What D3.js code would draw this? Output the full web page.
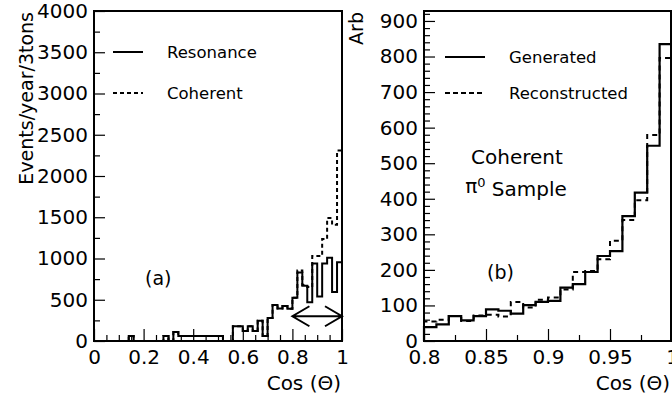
<!DOCTYPE html>
<html><head><meta charset="utf-8">
<script src="https://cdn.jsdelivr.net/npm/d3@7"></script>
<style>
html,body{margin:0;padding:0;background:#fff;}
svg{display:block;}
text{font-family:"DejaVu Sans",sans-serif;fill:#000;}
</style></head><body>
<svg id="chart" width="672" height="397"></svg>
<script>
// ---- Panel (a): events per year per 3 tons vs cos(theta), 50 bins of 0.02
const leftBinWidth = 0.02;
const resonance = [
  0, 0, 0, 0, 0, 0, 0, 60, 0, 0,
  0, 0, 0, 0, 60, 0, 110, 60, 60, 60,
  60, 60, 60, 60, 60, 60, 0, 0, 180, 180,
  120, 180, 120, 245, 60, 280, 435, 395, 425, 390,
  525, 830, 670, 470, 940, 540, 940, 1010, 595, 955
];
const coherent = [
  0, 0, 0, 0, 0, 0, 0, 60, 0, 0,
  0, 0, 0, 0, 60, 0, 110, 60, 60, 60,
  60, 60, 60, 60, 60, 60, 0, 0, 180, 180,
  120, 180, 120, 245, 60, 280, 435, 395, 425, 390,
  525, 855, 680, 655, 1030, 1030, 1235, 1490, 1410, 2310
];
const leftXTicks = [0, 0.2, 0.4, 0.6, 0.8, 1];
const leftXMinor = [0.05, 0.1, 0.15, 0.25, 0.3, 0.35, 0.45, 0.5, 0.55, 0.65, 0.7, 0.75, 0.85, 0.9, 0.95];
const leftYTicks = [0, 500, 1000, 1500, 2000, 2500, 3000, 3500, 4000];
const leftYMinor = [250, 750, 1250, 1750, 2250, 2750, 3250, 3750];
const cutRange = [0.8, 1.0];
const cutLevel = 300;

// ---- Panel (b): coherent pi0 sample, 20 bins of 0.01
const rightBinWidth = 0.01;
const generated = [39, 47, 70, 58, 70, 89, 85, 77, 101, 110, 113, 150, 160, 194, 239, 253, 351, 417, 549, 835];
const reconstructed = [55, 60, 70, 56, 72, 74, 69, 110, 94, 116, 122, 145, 194, 197, 230, 282, 340, 396, 579, 796];
const rightXTicks = [0.8, 0.85, 0.9, 0.95, 1];
const rightXMinor = [0.825, 0.875, 0.925, 0.975];
const rightYTicks = [0, 100, 200, 300, 400, 500, 600, 700, 800, 900];

const svg = d3.select("#chart");

function histPath(vals, binW, lo, x, y) {
  const pts = [[x(lo), y(0)]];
  vals.forEach((v, i) => {
    pts.push([x(lo + i * binW), y(v)]);
    pts.push([x(lo + (i + 1) * binW), y(v)]);
  });
  pts.push([x(lo + vals.length * binW), y(0)]);
  return d3.line()(pts);
}

function styleAxis(g) {
  g.select(".domain").remove();
  g.selectAll(".tick line").attr("stroke", "#000").attr("stroke-width", 1.2);
  g.selectAll(".tick text").style("font-size", "20px").style("font-family", "DejaVu Sans, sans-serif").attr("fill", "#000");
}

function drawPanel(cfg) {
  const { x, y, xMajor, xMinor, yMajor, yMinor, yFmt } = cfg;
  const [x0, x1] = x.range();
  const [yb, yt] = y.range();
  const g = svg.append("g");

  // minor ticks
  g.append("g").attr("transform", `translate(0,${yb})`)
    .call(d3.axisBottom(x).tickValues(xMinor).tickSize(-6).tickFormat(""))
    .call(styleAxis);
  g.append("g").attr("transform", `translate(${x0},0)`)
    .call(d3.axisLeft(y).tickValues(yMinor).tickSize(-6).tickFormat(""))
    .call(styleAxis);
  // major ticks and labels
  g.append("g").attr("transform", `translate(0,${yb})`)
    .call(d3.axisBottom(x).tickValues(xMajor).tickSize(-12).tickPadding(9).tickFormat(d3.format("~g")))
    .call(styleAxis);
  g.append("g").attr("transform", `translate(${x0},0)`)
    .call(d3.axisLeft(y).tickValues(yMajor).tickSize(-11).tickPadding(6).tickFormat(yFmt))
    .call(styleAxis);
  return g;
}

// ---------- Panel (a)
const xL = d3.scaleLinear().domain([0, 1]).range([94, 342]);
const yL = d3.scaleLinear().domain([0, 4000]).range([341, 11]);
const gL = drawPanel({ x: xL, y: yL, xMajor: leftXTicks, xMinor: leftXMinor, yMajor: leftYTicks, yMinor: leftYMinor, yFmt: d3.format("d") });

gL.append("path").attr("d", histPath(resonance, leftBinWidth, 0, xL, yL))
  .attr("fill", "none").attr("stroke", "#000").attr("stroke-width", 2);
gL.append("path").attr("d", histPath(coherent, leftBinWidth, 0, xL, yL))
  .attr("fill", "none").attr("stroke", "#000").attr("stroke-width", 2).attr("stroke-dasharray", "4,3");

// double arrow marking the selected cos(theta) range
const ax0 = xL(cutRange[0]), ax1 = xL(cutRange[1]), ay = yL(cutLevel);
gL.append("path")
  .attr("d", `M${ax0},${ay}L${ax1},${ay}M${ax0 + 17},${ay - 10}L${ax0},${ay}L${ax0 + 17},${ay + 10}M${ax1 - 17},${ay - 10}L${ax1},${ay}L${ax1 - 17},${ay + 10}`)
  .attr("fill", "none").attr("stroke", "#000").attr("stroke-width", 2);

gL.append("rect").attr("x", 94).attr("y", 11).attr("width", 248).attr("height", 330)
  .attr("fill", "none").attr("stroke", "#000").attr("stroke-width", 2);

// legend (a)
gL.append("line").attr("x1", 113).attr("x2", 143).attr("y1", 52).attr("y2", 52).attr("stroke", "#000").attr("stroke-width", 2);
gL.append("text").attr("x", 167).attr("y", 52).attr("dy", "0.36em").style("font-size", "16.5px").text("Resonance");
gL.append("line").attr("x1", 113).attr("x2", 143).attr("y1", 93).attr("y2", 93).attr("stroke", "#000").attr("stroke-width", 2).attr("stroke-dasharray", "4,3");
gL.append("text").attr("x", 167).attr("y", 93).attr("dy", "0.36em").style("font-size", "16.5px").text("Coherent");
gL.append("text").attr("x", 145).attr("y", 278).attr("dy", "0.36em").style("font-size", "19px").text("(a)");

gL.append("text").attr("transform", "translate(33,12) rotate(-90)").attr("text-anchor", "end")
  .style("font-size", "19px").text("Events/year/3tons");
gL.append("text").attr("x", 341).attr("y", 390).attr("text-anchor", "end").style("font-size", "20px").text("Cos (\u0398)");

// ---------- Panel (b)
const xR = d3.scaleLinear().domain([0.8, 1.0]).range([424, 672]);
const yR = d3.scaleLinear().domain([0, 928]).range([341, 11]);
const gR = drawPanel({ x: xR, y: yR, xMajor: rightXTicks, xMinor: rightXMinor, yMajor: rightYTicks, yMinor: d3.range(20, 921, 20).filter(v => v % 100 !== 0), yFmt: d3.format("d") });

gR.append("path").attr("d", histPath(generated, rightBinWidth, 0.8, xR, yR))
  .attr("fill", "none").attr("stroke", "#000").attr("stroke-width", 2.2);
gR.append("path").attr("d", histPath(reconstructed, rightBinWidth, 0.8, xR, yR))
  .attr("fill", "none").attr("stroke", "#000").attr("stroke-width", 2).attr("stroke-dasharray", "5,4");

gR.append("rect").attr("x", 424).attr("y", 11).attr("width", 247).attr("height", 330)
  .attr("fill", "none").attr("stroke", "#000").attr("stroke-width", 2);

// legend (b)
gR.append("line").attr("x1", 445).attr("x2", 485).attr("y1", 57).attr("y2", 57).attr("stroke", "#000").attr("stroke-width", 2);
gR.append("text").attr("x", 509).attr("y", 57).attr("dy", "0.36em").style("font-size", "16.5px").text("Generated");
gR.append("line").attr("x1", 445).attr("x2", 485).attr("y1", 93).attr("y2", 93).attr("stroke", "#000").attr("stroke-width", 2).attr("stroke-dasharray", "5,3");
gR.append("text").attr("x", 509).attr("y", 93).attr("dy", "0.36em").style("font-size", "16.5px").text("Reconstructed");

gR.append("text").attr("x", 517).attr("y", 157).attr("dy", "0.36em").attr("text-anchor", "middle").style("font-size", "20px").text("Coherent");
const pi = gR.append("text").attr("x", 516).attr("y", 186).attr("dy", "0.36em").attr("text-anchor", "middle").style("font-size", "20px");
pi.append("tspan").text("\u03c0");
pi.append("tspan").attr("dy", "-0.45em").style("font-size", "13px").text("0");
pi.append("tspan").attr("dy", "0.45em").text(" Sample");
gR.append("text").attr("x", 487).attr("y", 272).attr("dy", "0.36em").style("font-size", "19px").text("(b)");

gR.append("text").attr("transform", "translate(363,12) rotate(-90)").attr("text-anchor", "end")
  .style("font-size", "19px").text("Arb");
gR.append("text").attr("x", 670).attr("y", 390).attr("text-anchor", "end").style("font-size", "20px").text("Cos (\u0398)");
</script></body></html>
